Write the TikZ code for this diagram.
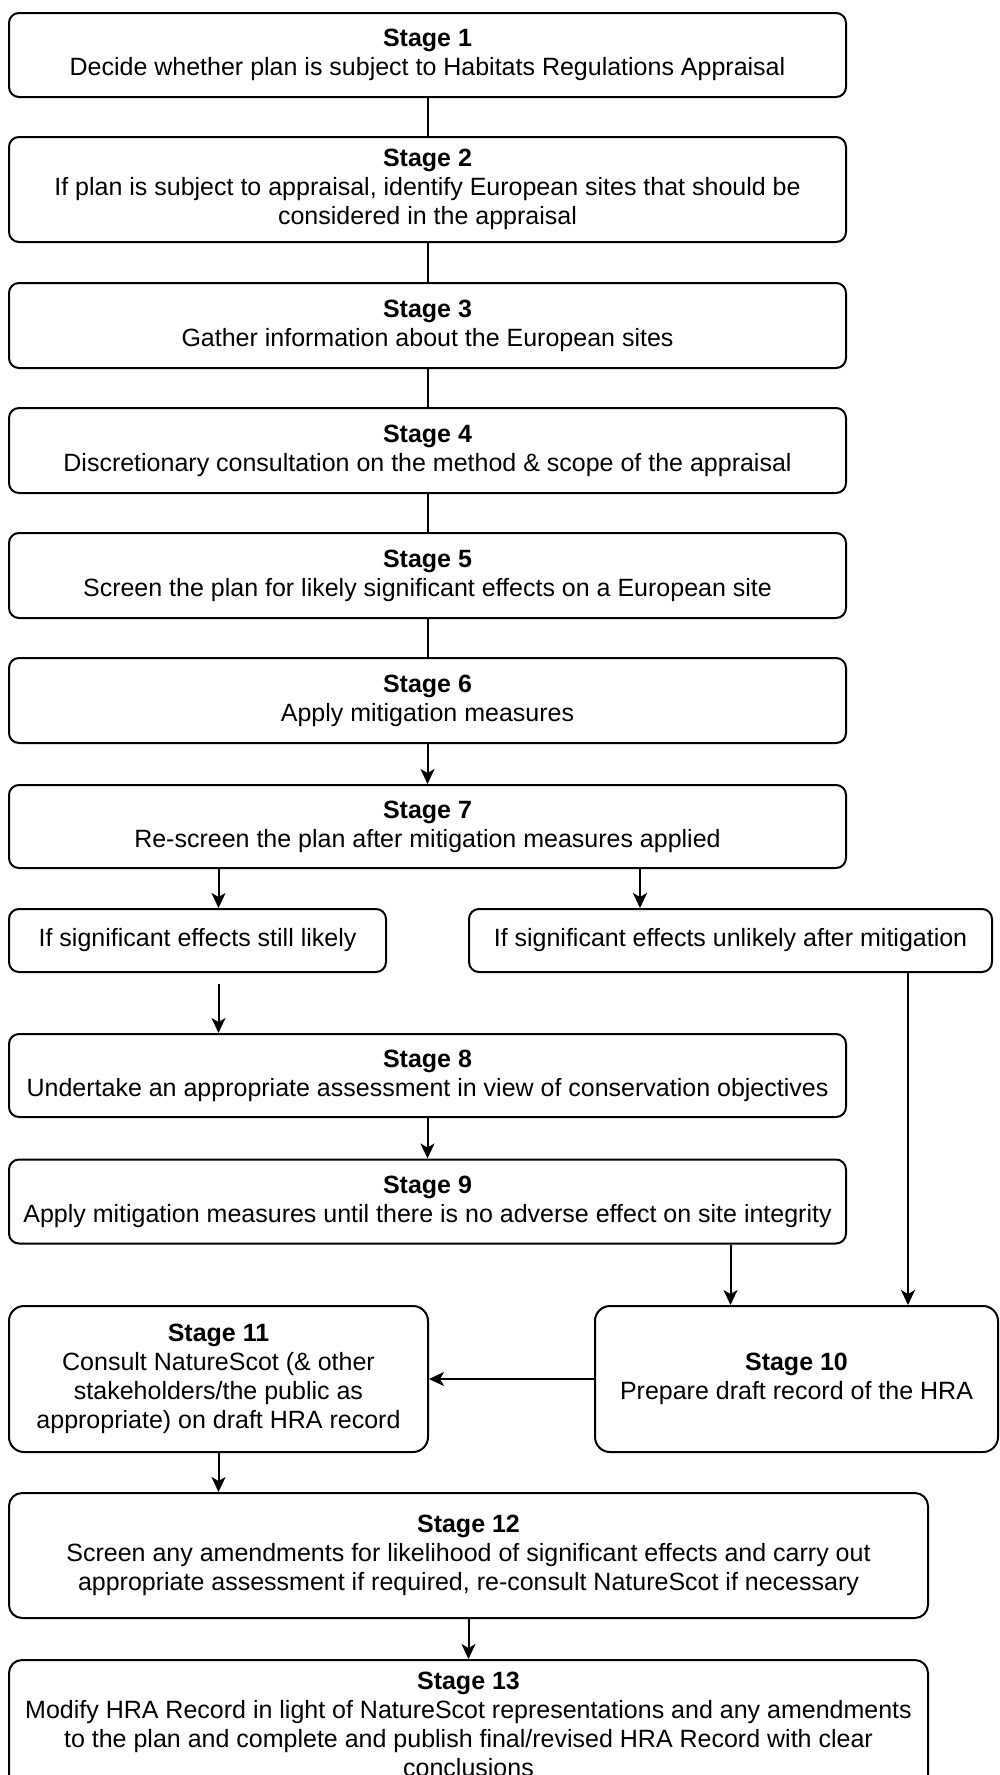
\documentclass[tikz,border=0pt]{standalone}
\usepackage{fontspec}
\setmainfont{Liberation Sans}
\usepackage{tikz}
\usetikzlibrary{arrows.meta}

\tikzset{
  stagebox/.style={draw, line width=2pt, rounded corners=10pt, align=center, inner sep=0pt,
    font=\fontsize{25}{29}\selectfont},
  arr/.style={line width=2pt, -{Stealth[length=15pt,width=14pt,inset=4pt]}},
  link/.style={line width=2pt}
}

\begin{document}
\begin{tikzpicture}[x=1pt,y=-1pt]
        \useasboundingbox (0,0) rectangle (999,1775);
        \clip (0,0) rectangle (999,1775);
        % the stages down the page
        \node[stagebox, minimum width=837pt, minimum height=84pt] (s1) at (427.5,55) {\textbf{Stage 1}\\Decide whether plan is subject to Habitats Regulations Appraisal};
        \node[stagebox, minimum width=837pt, minimum height=105pt] (s2) at (427.5,189.5) {\textbf{Stage 2}\\If plan is subject to appraisal, identify European sites that should be\\considered in the appraisal};
        \node[stagebox, minimum width=837pt, minimum height=85pt] (s3) at (427.5,325.5) {\textbf{Stage 3}\\Gather information about the European sites};
        \node[stagebox, minimum width=837pt, minimum height=85pt] (s4) at (427.5,450.5) {\textbf{Stage 4}\\Discretionary consultation on the method \& scope of the appraisal};
        \node[stagebox, minimum width=837pt, minimum height=85pt] (s5) at (427.5,575.5) {\textbf{Stage 5}\\Screen the plan for likely significant effects on a European site};
        \node[stagebox, minimum width=837pt, minimum height=85pt] (s6) at (427.5,700.5) {\textbf{Stage 6}\\Apply mitigation measures};
        \node[stagebox, minimum width=837pt, minimum height=83pt] (s7) at (427.5,826.5) {\textbf{Stage 7}\\Re-screen the plan after mitigation measures applied};
        % the two outcomes
        \node[stagebox, minimum width=377pt, minimum height=63pt] (likely) at (197.5,940.5) {If significant effects still likely};
        \node[stagebox, minimum width=523pt, minimum height=63pt] (unlikely) at (730.5,940.5) {If significant effects unlikely after mitigation};
        \node[stagebox, minimum width=837pt, minimum height=83pt] (s8) at (427.5,1075.5) {\textbf{Stage 8}\\Undertake an appropriate assessment in view of conservation objectives};
        \node[stagebox, minimum width=837pt, minimum height=84pt] (s9) at (427.5,1201.5) {\textbf{Stage 9}\\Apply mitigation measures until there is no adverse effect on site integrity};
        \node[stagebox, rounded corners=15pt, minimum width=419pt, minimum height=146pt] (s11) at (218.5,1379) {\textbf{Stage 11}\\Consult NatureScot (\& other\\stakeholders/the public as\\appropriate) on draft HRA record};
        \node[stagebox, rounded corners=15pt, minimum width=403pt, minimum height=146pt] (s10) at (796.5,1379) {\textbf{Stage 10}\\Prepare draft record of the HRA};
        \node[stagebox, rounded corners=13pt, minimum width=919pt, minimum height=125pt] (s12) at (468.5,1555.5) {\textbf{Stage 12}\\Screen any amendments for likelihood of significant effects and carry out\\appropriate assessment if required, re-consult NatureScot if necessary};
        \node[stagebox, rounded corners=13pt, minimum width=919pt, minimum height=128pt] (s13) at (468.5,1724) {\textbf{Stage 13}\\Modify HRA Record in light of NatureScot representations and any amendments\\to the plan and complete and publish final/revised HRA Record with clear\\conclusions};
        % connectors
        \draw[link] (s1) -- (s2);
        \draw[link] (s2) -- (s3);
        \draw[link] (s3) -- (s4);
        \draw[link] (s4) -- (s5);
        \draw[link] (s5) -- (s6);
        \draw[arr] (s6) -- (s7);
        \draw[arr] (s7.south -| s11) -- (likely.north -| s11);
        \draw[arr] ([xshift=212.5pt]s7.south) -- ([xshift=212.5pt]s7.south |- unlikely.north);
        \draw[arr] ([yshift=-11pt]likely.south -| s11) -- (s8.north -| s11);
        \draw[arr] (s8) -- (s9);
        \draw[arr] (s9.south -| unlikely) -- (s10.north -| unlikely);
        \draw[arr] ([xshift=177.5pt]unlikely.south) -- ([xshift=177.5pt]unlikely.south |- s10.north);
        \draw[arr] (s10) -- (s11);
        \draw[arr] (s11.south) -- (s12.north -| s11);
        \draw[arr] (s12) -- (s13);
      \end{tikzpicture}
\end{document}
